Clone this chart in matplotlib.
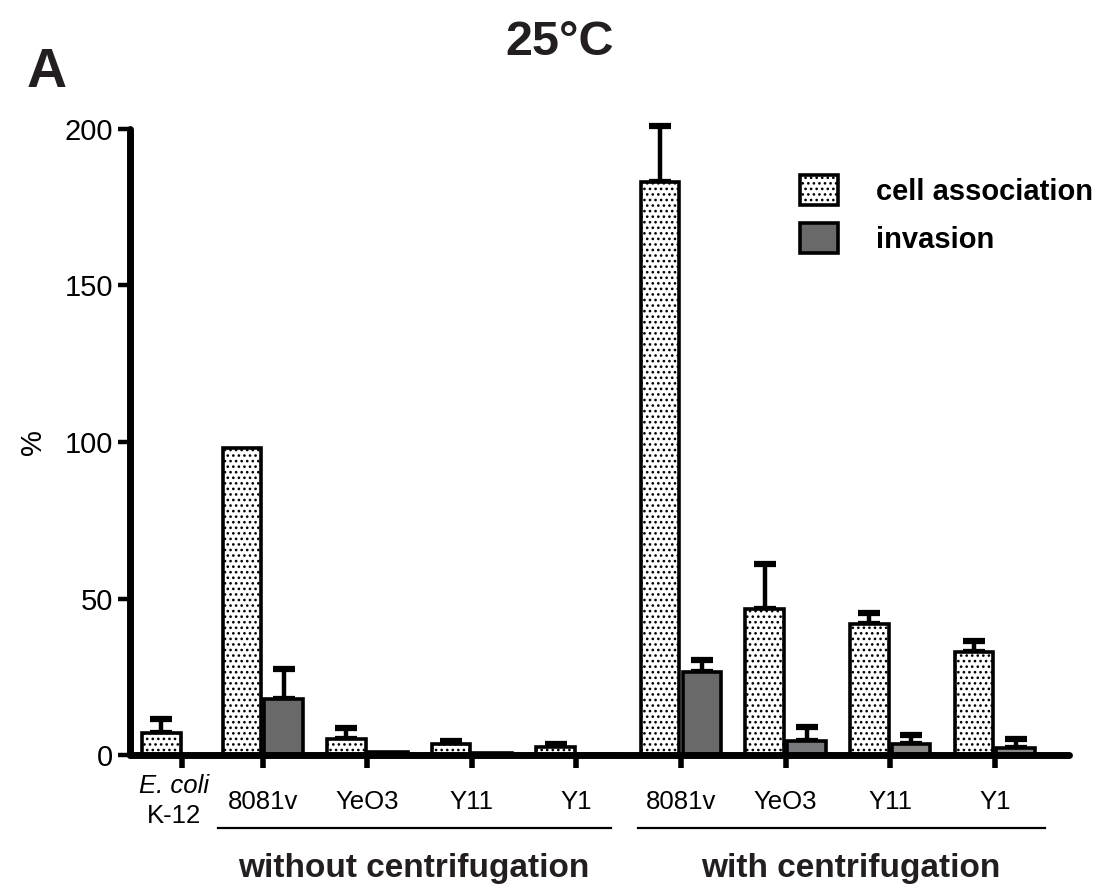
import numpy as np
import matplotlib.pyplot as plt

plt.rcParams['font.family'] = ['Liberation Sans', 'DejaVu Sans']
plt.rcParams['hatch.linewidth'] = 1.1

strains = ['E. coli K-12', '8081v', 'YeO3', 'Y11', 'Y1', '8081v', 'YeO3', 'Y11', 'Y1']
pos = np.array([-0.77, 0, 1, 2, 3, 4, 5, 6, 7])

cell = [7, 98, 5, 3.5, 2.5, 183, 46.5, 42, 33]
cell_err = [4.5, 0, 3.5, 1, 1, 18, 14.5, 3.5, 3.5]
inv = [0, 18, 1.0, 0.7, 0.3, 26.5, 4.5, 3.5, 2.3]
inv_err = [0, 9.5, 0, 0, 0, 4, 4.4, 3, 2.8]
inv_colors = ['#696969'] * 6 + ['#77787b', '#8a8786', '#8a8786']

fig = plt.figure(figsize=(11.16, 8.96), dpi=100)
ax = fig.add_axes([130 / 1116, (896 - 755) / 896, (1069 - 130) / 1116, 626 / 896])

w = 0.37
off = 0.2
ax.bar(pos - off, cell, w, color='white', edgecolor='black', linewidth=2.6,
       hatch='...', label='cell association', zorder=2)
ax.bar(pos + off, inv, w, color=inv_colors, edgecolor='black', linewidth=2.6,
       label='invasion', zorder=2)

ce = np.array(cell_err)
ie = np.array(inv_err)
m = ce > 0
ax.errorbar(pos[m] - off, np.array(cell)[m], yerr=[np.zeros(m.sum()), ce[m]], fmt='none',
            ecolor='black', elinewidth=3.2, capsize=8, capthick=4.5, clip_on=False, zorder=1)
m = ie > 0
ax.errorbar(pos[m] + off, np.array(inv)[m], yerr=[np.zeros(m.sum()), ie[m]], fmt='none',
            ecolor='black', elinewidth=3.2, capsize=8, capthick=4.5, clip_on=False, zorder=1)

ax.set_xlim(-1.27, 7.71)
ax.set_ylim(0, 200)
ax.set_yticks([0, 50, 100, 150, 200])
ax.tick_params(axis='y', labelsize=21, length=9, width=3.2, pad=3)
ax.set_xticks(pos)
ax.set_xticklabels([''] + strains[1:])
ax.tick_params(axis='x', labelsize=18.5, length=9, width=4, pad=16)
for s in ['top', 'right']:
    ax.spines[s].set_visible(False)
for s in ['left', 'bottom']:
    ax.spines[s].set_linewidth(5)
    ax.spines[s].set_capstyle('round')
ax.set_ylabel('%', fontsize=21, labelpad=13)

# E. coli label
tr = ax.get_xaxis_transform()
ax.text(pos[0] - 0.08, -0.031, 'E. coli', transform=tr,
        ha='center', va='top', fontsize=18.5, style='italic')
ax.text(pos[0] - 0.08, -0.079, 'K-12', transform=tr,
        ha='center', va='top', fontsize=18.5)

# group lines and labels
ax.plot([-0.43, 3.33], [-0.1166, -0.1166], color='black', lw=1.6, transform=tr, clip_on=False)
ax.plot([3.585, 7.476], [-0.1166, -0.1166], color='black', lw=1.6, transform=tr, clip_on=False)
ax.text(1.44, -0.195, 'without centrifugation', transform=tr, ha='center', va='baseline',
        fontsize=24, fontweight='bold', color='#231f20')
ax.text(5.62, -0.195, 'with centrifugation', transform=tr, ha='center', va='baseline',
        fontsize=24, fontweight='bold', color='#231f20')

ax.legend(loc='upper left', bbox_to_anchor=(800 / 1116, (896 - 175) / 896),
          bbox_transform=fig.transFigure, frameon=False,
          prop={'weight': 'bold', 'size': 21}, handlelength=1.3, handleheight=1.2,
          handletextpad=1.3, labelspacing=0.6, borderpad=0, borderaxespad=0)

fig.text(560 / 1116, (896 - 55) / 896, '25°C', ha='center', va='baseline',
         fontsize=35, fontweight='bold', color='#231f20')
fig.text(27 / 1116, (896 - 87) / 896, 'A', ha='left', va='baseline',
         fontsize=40, fontweight='bold', color='#231f20')

plt.savefig('out.png', dpi=100)
